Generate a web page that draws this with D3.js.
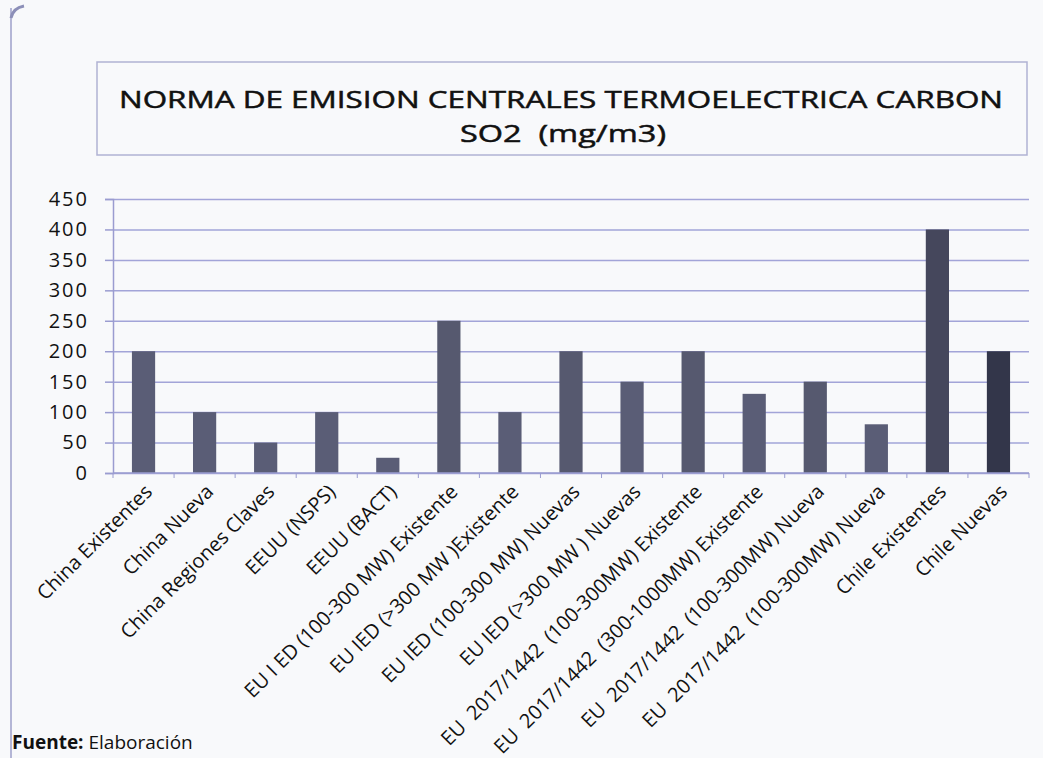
<!DOCTYPE html>
<html>
<head>
<meta charset="utf-8">
<script src="https://cdn.jsdelivr.net/npm/d3@7"></script>
<style>
  body { margin: 0; background: #f8f9fb; }
  svg { display: block; }
</style>
</head>
<body>
<div id="chart"></div>
<script>
// data
const categories = [
    "China Existentes", "China Nueva", "China Regiones Claves", "EEUU (NSPS)", "EEUU (BACT)",
    "EU I ED (100-300 MW) Existente", "EU IED (>300 MW )Existente", "EU IED (100-300 MW) Nuevas",
    "EU IED (>300 MW ) Nuevas", "EU  2017/1442  (100-300MW) Existente",
    "EU  2017/1442  (300-1000MW) Existente", "EU  2017/1442  (100-300MW) Nueva",
    "EU  2017/1442  (100-300MW) Nueva ", "Chile Existentes", "Chile Nuevas"
];
const values = [200, 100, 50, 100, 25, 250, 100, 200, 150, 200, 130, 150, 80, 400, 200];
const yTicks = [0, 50, 100, 150, 200, 250, 300, 350, 400, 450];
const barColors = ["#5a5d76", "#5a5d76", "#5a5d76", "#5a5d76", "#5a5d76", "#56596f", "#5a5d76",
    "#56596f", "#5a5d76", "#56596f", "#5a5d76", "#56596f", "#5a5d76", "#45475c", "#33364a"];

const w = 1043;
const h = 758;
const plotLeft = 113, plotRight = 1029, plotTop = 199, plotBottom = 473;
const font = "'Open Sans', sans-serif";

const svg = d3.select("#chart")
    .append("svg")
    .attr("width", w)
    .attr("height", h);

// scan edge line on the left
svg.append("line")
    .attr("x1", 11).attr("x2", 11)
    .attr("y1", 8).attr("y2", h)
    .attr("stroke", "#b4b6d6")
    .attr("stroke-width", 2);
svg.append("path")
    .attr("d", "M11,18 Q13,8 24,6")
    .attr("fill", "none")
    .attr("stroke", "#8c8fb8")
    .attr("stroke-width", 3);

// title box
svg.append("rect")
    .attr("x", 97).attr("y", 62)
    .attr("width", 930).attr("height", 93)
    .attr("fill", "none")
    .attr("stroke", "#b0b2d4")
    .attr("stroke-width", 1.5);

const titleLines = [
    { text: "NORMA DE EMISION CENTRALES TERMOELECTRICA CARBON", x: 561, y: 108, len: 884 },
    { text: "SO2  (mg/m3)", x: 563, y: 142, len: 206 }
];
svg.selectAll(".title")
    .data(titleLines)
    .enter()
    .append("text")
    .attr("class", "title")
    .attr("x", d => d.x)
    .attr("y", d => d.y)
    .attr("text-anchor", "middle")
    .attr("textLength", d => d.len)
    .attr("lengthAdjust", "spacingAndGlyphs")
    .style("font-family", font)
    .style("font-size", "24px")
    .style("fill", "#111")
    .style("stroke", "#111")
    .style("stroke-width", "0.5px")
    .style("white-space", "pre")
    .text(d => d.text);

const xScale = d3.scaleBand()
    .domain(categories)
    .range([plotLeft, plotRight])
    .paddingInner(0.62)
    .paddingOuter(0.31);

const yScale = d3.scaleLinear()
    .domain([0, 450])
    .range([plotBottom, plotTop]);

// gridlines
svg.append("g")
    .attr("transform", `translate(${plotLeft}, 0)`)
    .call(d3.axisLeft(yScale).tickValues(yTicks).tickSize(-(plotRight - plotLeft)).tickFormat(""))
    .call(g => g.select(".domain").remove())
    .call(g => g.selectAll(".tick line")
        .attr("stroke", "#a2a4d8")
        .attr("stroke-width", 1.5));

// y axis
svg.append("g")
    .attr("id", "y-axis")
    .attr("transform", `translate(${plotLeft}, 0)`)
    .call(d3.axisLeft(yScale).tickValues(yTicks).tickSize(8).tickPadding(16))
    .call(g => g.select(".domain").attr("stroke", "#9a9cd0").attr("stroke-width", 1.5))
    .call(g => g.selectAll(".tick line").attr("stroke", "#9a9cd0").attr("stroke-width", 1.5))
    .call(g => g.selectAll(".tick text")
        .style("font-family", font)
        .style("font-size", "20px")
        .style("letter-spacing", "2px")
        .style("fill", "#111"));

// bars
svg.selectAll(".bar")
    .data(values)
    .enter()
    .append("rect")
    .attr("class", "bar")
    .attr("x", (d, i) => xScale(categories[i]))
    .attr("y", d => yScale(d))
    .attr("width", xScale.bandwidth())
    .attr("height", d => plotBottom - yScale(d))
    .attr("fill", (d, i) => barColors[i]);

// x axis line and small ticks at category boundaries
const step = xScale.step();
const bounds = d3.range(categories.length + 1).map(i => plotLeft + i * step);
svg.append("line")
    .attr("x1", plotLeft).attr("x2", plotRight)
    .attr("y1", plotBottom).attr("y2", plotBottom)
    .attr("stroke", "#9a9cd0")
    .attr("stroke-width", 1.5);
svg.selectAll(".xtick")
    .data(bounds)
    .enter()
    .append("line")
    .attr("class", "xtick")
    .attr("x1", d => d).attr("x2", d => d)
    .attr("y1", plotBottom).attr("y2", plotBottom + 5)
    .attr("stroke", "#9a9cd0")
    .attr("stroke-width", 1);

// rotated category labels
svg.selectAll(".xlabel")
    .data(categories)
    .enter()
    .append("text")
    .attr("class", "xlabel")
    .attr("transform", d => `translate(${xScale(d) + xScale.bandwidth() / 2 + 10}, ${plotBottom + 20}) rotate(-45)`)
    .attr("text-anchor", "end")
    .style("font-family", font)
    .style("font-size", "20px")
    .style("fill", "#111")
    .style("white-space", "pre")
    .text(d => d.trim());

// source note
const src = svg.append("text")
    .attr("x", 12)
    .attr("y", 749)
    .style("font-family", font)
    .style("font-size", "19px")
    .style("fill", "#111");
src.append("tspan").style("font-weight", "bold").text("Fuente:");
src.append("tspan").text(" Elaboración");
</script>
</body>
</html>
